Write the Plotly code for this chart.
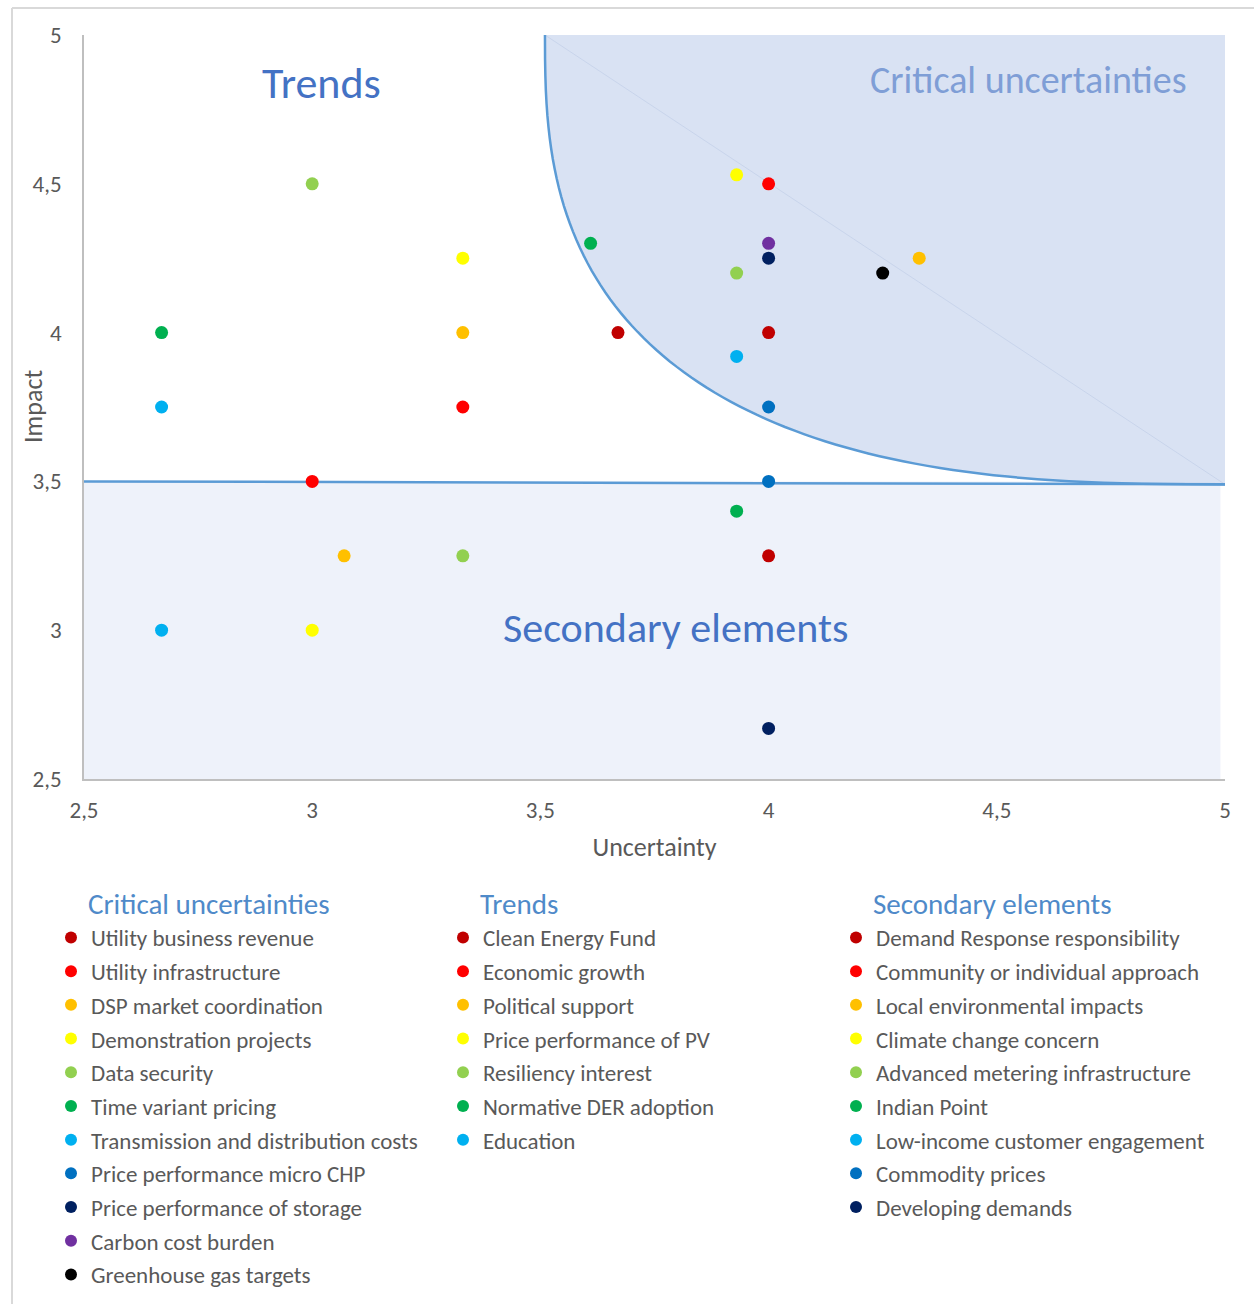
import math
import plotly.graph_objects as go

# ---------------- data ----------------
palette = ["#C00000", "#FF0000", "#FFC000", "#FFFF00", "#92D050", "#00B050",
           "#00B0F0", "#0070C0", "#002060", "#7030A0", "#000000"]

crit_names = ["Utility business revenue", "Utility infrastructure", "DSP market coordination",
              "Demonstration projects", "Data security", "Time variant pricing",
              "Transmission and distribution costs", "Price performance micro CHP",
              "Price performance of storage", "Carbon cost burden", "Greenhouse gas targets"]
crit_x = [4.0, 4.0, 4.33, 3.93, 3.93, 3.61, 3.93, 4.0, 4.0, 4.0, 4.25]
crit_y = [4.0, 4.5, 4.25, 4.53, 4.2, 4.3, 3.92, 3.75, 4.25, 4.3, 4.2]

trend_names = ["Clean Energy Fund", "Economic growth", "Political support",
               "Price performance of PV", "Resiliency interest", "Normative DER adoption", "Education"]
trend_x = [3.67, 3.33, 3.33, 3.33, 3.0, 2.67, 2.67]
trend_y = [4.0, 3.75, 4.0, 4.25, 4.5, 4.0, 3.75]

sec_names = ["Demand Response responsibility", "Community or individual approach",
             "Local environmental impacts", "Climate change concern",
             "Advanced metering infrastructure", "Indian Point",
             "Low-income customer engagement", "Commodity prices", "Developing demands"]
sec_x = [4.0, 3.0, 3.07, 3.0, 3.33, 3.93, 2.67, 4.0, 4.0]
sec_y = [3.25, 3.5, 3.25, 3.0, 3.25, 3.4, 3.0, 3.5, 2.67]

group_titles = ["Critical uncertainties", "Trends", "Secondary elements"]
tick_vals = [2.5, 3, 3.5, 4, 4.5, 5]

FONT = "Carlito, Lato, 'Open Sans', sans-serif"
TXT = "#595959"
HDR = "#4F8AC9"
LINE = "#5B9BD5"

W, H = 1254, 1304
L, R, T, B = 84, 29, 35, 525
PW, PH = W - L - R, H - T - B

def px_to_paper(px, py):
    return (px - L) / PW, (H - B - py) / PH

fig = go.Figure()

groups = [(crit_names, crit_x, crit_y, "legend"),
          (trend_names, trend_x, trend_y, "legend2"),
          (sec_names, sec_x, sec_y, "legend3")]
for gi, (names, xs, ys, leg) in enumerate(groups):
    for i, (n, x, y) in enumerate(zip(names, xs, ys)):
        fig.add_trace(go.Scatter(
            x=[x], y=[y], mode="markers", name=n,
            marker=dict(size=13, color=palette[i]),
            legend=leg, legendgroup=f"g{gi}_{i}",
            hovertemplate=f"{n}<br>Uncertainty %{{x}}<br>Impact %{{y}}<extra></extra>"))

# --------------- decorative regions ----------------
n_exp = 2.7
pts = []
steps = 80
for k in range(steps + 1):
    t = k / steps * math.pi / 2
    c, s = math.cos(t), math.sin(t)
    xp = 5 - 1.49 * (c ** (2 / n_exp))
    yp = 5 - 1.51 * (s ** (2 / n_exp))
    pts.append((xp, yp))
path_curve = "M " + " L ".join(f"{a:.4f},{b:.4f}" for a, b in pts)
path_fill = path_curve + " L 5,5 Z"

fx0, fy1 = px_to_paper(12, 8)
shapes = [
    dict(type="rect", xref="x", yref="y", x0=2.5, x1=4.99, y0=2.5, y1=3.5,
         fillcolor="#EEF2FA", line=dict(width=0), layer="below"),
    dict(type="path", xref="x", yref="y", path=path_fill,
         fillcolor="#D9E2F3", line=dict(width=0), layer="below"),
    dict(type="line", xref="x", yref="y", x0=3.51, y0=5, x1=5, y1=3.49,
         line=dict(color="rgba(198,211,234,0.9)", width=1), layer="below"),
    dict(type="path", xref="x", yref="y", path=path_curve,
         line=dict(color=LINE, width=2.5), layer="below"),
    dict(type="line", xref="x", yref="y", x0=2.5, y0=3.5, x1=5.005, y1=3.49,
         line=dict(color=LINE, width=2.5), layer="below"),
    dict(type="line", xref="paper", yref="paper", x0=fx0, x1=fx0, y0=-0.8, y1=fy1,
         line=dict(color="#D9D9D9", width=2)),
    dict(type="line", xref="paper", yref="paper", x0=fx0, x1=1.05, y0=fy1, y1=fy1,
         line=dict(color="#D9D9D9", width=2)),
]

annotations = [
    dict(x=3.02, y=4.84, xref="x", yref="y", text="Trends", showarrow=False,
         font=dict(family=FONT, size=44, color="#4472C4")),
    dict(x=4.569, y=4.85, xref="x", yref="y", text="Critical uncertainties", showarrow=False,
         font=dict(family=FONT, size=38, color="#7F9ED6")),
    dict(x=3.795, y=3.01, xref="x", yref="y", text="Secondary elements", showarrow=False,
         font=dict(family=FONT, size=42, color="#4472C4")),
]
# y-axis title placed precisely
ix, iy = px_to_paper(33, 407)
annotations.append(dict(x=ix, y=iy, xref="paper", yref="paper", text="Impact",
                        showarrow=False, textangle=-90, xanchor="center", yanchor="middle",
                        font=dict(family=FONT, size=26, color=TXT)))
# legend headers
for title, hx in zip(group_titles, [86, 478, 871]):
    ax, ay = px_to_paper(hx, 904)
    annotations.append(dict(x=ax, y=ay, xref="paper", yref="paper", text=title,
                            showarrow=False, xanchor="left", yanchor="middle",
                            font=dict(family=FONT, size=29, color=HDR)))

def legend_cfg(x_px):
    lx, ly = px_to_paper(x_px, 916)
    return dict(
        font=dict(family=FONT, size=23, color=TXT),
        x=lx, y=ly, xanchor="left", yanchor="top",
        traceorder="grouped", tracegroupgap=0.8, itemsizing="constant",
        bgcolor="rgba(0,0,0,0)", borderwidth=0)

fig.update_layout(
    width=W, height=H,
    margin=dict(l=L, r=R, t=T, b=B, autoexpand=False),
    paper_bgcolor="white", plot_bgcolor="white",
    separators=", ",
    font=dict(family=FONT, color=TXT),
    showlegend=True,
    legend=legend_cfg(51),
    legend2=legend_cfg(443),
    legend3=legend_cfg(836),
    shapes=shapes, annotations=annotations,
    xaxis=dict(range=[2.5, 5], tickvals=tick_vals, showgrid=False, zeroline=False,
               showline=True, linecolor="#BFBFBF", linewidth=1.5, ticks="",
               tickfont=dict(size=23, color=TXT), ticklabelstandoff=10,
               title=dict(text="Uncertainty", font=dict(size=26, color=TXT), standoff=14)),
    yaxis=dict(range=[2.5, 5], tickvals=tick_vals, showgrid=False, zeroline=False,
               showline=True, linecolor="#BFBFBF", linewidth=1.5, ticks="",
               tickfont=dict(size=23, color=TXT), ticklabelstandoff=16),
)

fig.write_html("out.html", post_script="document.body.style.margin='0';",
               config={"displayModeBar": False})
